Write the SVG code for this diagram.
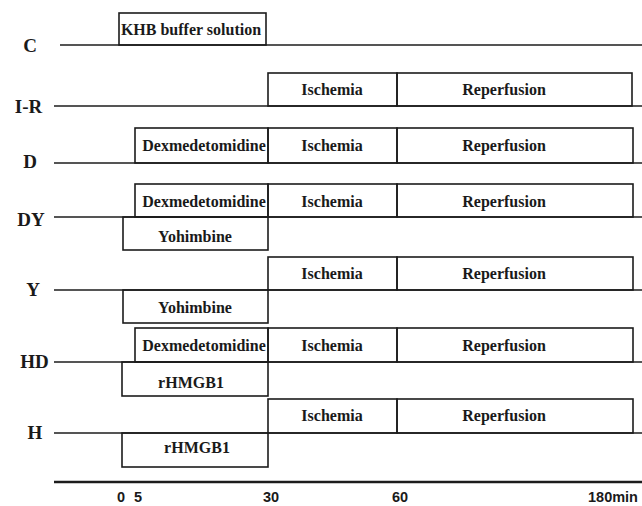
<svg xmlns="http://www.w3.org/2000/svg" width="642" height="506" viewBox="0 0 642 506">
<style>
.bg{fill:#ffffff}
.box{fill:none;stroke:#1c1c1c;stroke-width:1.6}
.tl{stroke:#1c1c1c;stroke-width:1.6;fill:none}
.axis{stroke:#1c1c1c;stroke-width:2.4;fill:none}
.bt{font-family:"Liberation Serif","Times New Roman",serif;font-weight:bold;font-size:16px;fill:#1a1a1a;text-anchor:middle}
.rl{font-family:"Liberation Serif","Times New Roman",serif;font-weight:bold;font-size:19px;fill:#1a1a1a;text-anchor:middle}
.ax{font-family:"Liberation Sans",Arial,sans-serif;font-weight:bold;font-size:14.5px;fill:#1a1a1a;text-anchor:middle}
</style>
<rect class="bg" x="0" y="0" width="642" height="506"/>
<g id="timelines">
<line class="tl" x1="60" y1="45" x2="642" y2="45"/>
<line class="tl" x1="54" y1="106" x2="642" y2="106"/>
<line class="tl" x1="54" y1="163" x2="642" y2="163"/>
<line class="tl" x1="54" y1="217" x2="642" y2="217"/>
<line class="tl" x1="54" y1="290" x2="642" y2="290"/>
<line class="tl" x1="54" y1="362" x2="642" y2="362"/>
<line class="tl" x1="54" y1="433" x2="642" y2="433"/>
<line class="axis" x1="54" y1="482" x2="642" y2="482"/>
</g>
<g id="row-labels">
<text class="rl" x="30" y="52">C</text>
<text class="rl" x="28.5" y="113">I-R</text>
<text class="rl" x="30" y="168">D</text>
<text class="rl" x="31" y="226">DY</text>
<text class="rl" x="33" y="296">Y</text>
<text class="rl" x="34.5" y="368">HD</text>
<text class="rl" x="35" y="439">H</text>
</g>
<g id="C-khb"><rect class="box" x="119" y="13" width="147" height="32"/><text class="bt" x="191" y="35">KHB buffer solution</text></g>
<g id="IR-isch"><rect class="box" x="268" y="73" width="129" height="33"/><text class="bt" x="332" y="95">Ischemia</text></g>
<g id="IR-rep"><rect class="box" x="397" y="73" width="235" height="33"/><text class="bt" x="504" y="95">Reperfusion</text></g>
<g id="D-dex"><rect class="box" x="135" y="128" width="133" height="35"/><text class="bt" x="204" y="151">Dexmedetomidine</text></g>
<g id="D-isch"><rect class="box" x="268" y="128" width="129" height="35"/><text class="bt" x="332" y="151">Ischemia</text></g>
<g id="D-rep"><rect class="box" x="397" y="128" width="236" height="35"/><text class="bt" x="504" y="151">Reperfusion</text></g>
<g id="DY-dex"><rect class="box" x="135" y="184" width="133" height="33"/><text class="bt" x="204" y="207">Dexmedetomidine</text></g>
<g id="DY-isch"><rect class="box" x="268" y="184" width="129" height="33"/><text class="bt" x="332" y="207">Ischemia</text></g>
<g id="DY-rep"><rect class="box" x="397" y="184" width="236" height="33"/><text class="bt" x="504" y="207">Reperfusion</text></g>
<g id="DY-yoh"><rect class="box" x="123" y="217" width="145" height="33"/><text class="bt" x="195" y="242">Yohimbine</text></g>
<g id="Y-isch"><rect class="box" x="268" y="257" width="129" height="33"/><text class="bt" x="332" y="279">Ischemia</text></g>
<g id="Y-rep"><rect class="box" x="397" y="257" width="236" height="33"/><text class="bt" x="504" y="279">Reperfusion</text></g>
<g id="Y-yoh"><rect class="box" x="123" y="290" width="145" height="33"/><text class="bt" x="195" y="313">Yohimbine</text></g>
<g id="HD-dex"><rect class="box" x="135" y="328" width="133" height="34"/><text class="bt" x="204" y="351">Dexmedetomidine</text></g>
<g id="HD-isch"><rect class="box" x="268" y="328" width="129" height="34"/><text class="bt" x="332" y="351">Ischemia</text></g>
<g id="HD-rep"><rect class="box" x="397" y="328" width="236" height="34"/><text class="bt" x="504" y="351">Reperfusion</text></g>
<g id="HD-rhmgb1"><rect class="box" x="122" y="362" width="146" height="34"/><text class="bt" x="191" y="388">rHMGB1</text></g>
<g id="H-isch"><rect class="box" x="268" y="399" width="129" height="34"/><text class="bt" x="332" y="421">Ischemia</text></g>
<g id="H-rep"><rect class="box" x="397" y="399" width="236" height="34"/><text class="bt" x="504" y="421">Reperfusion</text></g>
<g id="H-rhmgb1"><rect class="box" x="122" y="433" width="146" height="34"/><text class="bt" x="197" y="453">rHMGB1</text></g>
<g id="axis-labels">
<text class="ax" x="121" y="502">0</text>
<text class="ax" x="138" y="502">5</text>
<text class="ax" x="271" y="502">30</text>
<text class="ax" x="400" y="502">60</text>
<text class="ax" x="613" y="502">180min</text>
</g>
</svg>
